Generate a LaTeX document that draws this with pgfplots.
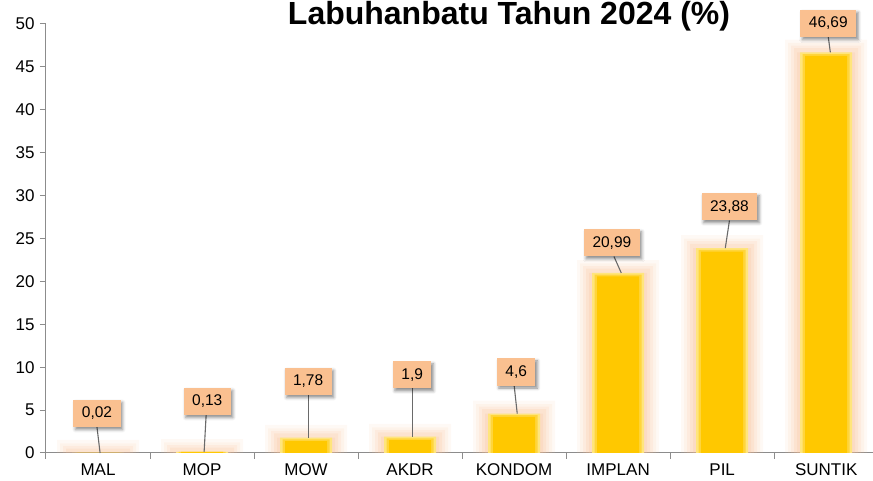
\documentclass[border=0pt]{standalone}
\usepackage{pgfplots}
\pgfplotsset{compat=1.18}
\usepackage{pgfplotstable}
\usepackage{fontspec}
\setmainfont{Liberation Sans}
\usetikzlibrary{shadows.blur}
\definecolor{gold}{HTML}{FFC800}
\definecolor{goldmid}{HTML}{FFD53C}
\definecolor{goldedge}{HTML}{FFE57C}
\definecolor{glow}{HTML}{F7BD92}
\definecolor{lblfill}{HTML}{FAC090}
\definecolor{axgray}{HTML}{8C8C8C}
\definecolor{leader}{HTML}{6A6A6A}

\tikzset{
  lbl/.style={fill=lblfill, draw=none, font=\fontsize{15.5}{18}\selectfont,
    inner xsep=8.5pt, inner ysep=6.3pt, text height=11.5pt, text depth=3pt,
    blur shadow={shadow xshift=2pt, shadow yshift=-2.5pt, shadow blur radius=3pt, shadow opacity=45}},
  ldr/.style={leader, line width=1.1pt},
}

% x = category index, v = value; m, c = inner (darker) parts of each bar;
% g1..g4 = soft glow layers around each bar
\pgfplotstableread{
x v m c g1 g2 g3 g4
0 0.02 0.02 0.02 1.52 1.12 0.82 0.52
1 0.13 0.13 0.13 1.63 1.23 0.93 0.63
2 1.78 1.58 1.38 3.28 2.88 2.58 2.28
3 1.90 1.70 1.50 3.40 3.00 2.70 2.40
4 4.60 4.40 4.20 6.10 5.70 5.40 5.10
5 20.99 20.79 20.59 22.49 22.09 21.79 21.49
6 23.88 23.68 23.48 25.38 24.98 24.68 24.38
7 46.69 46.49 46.29 48.19 47.79 47.49 47.19
}\datatable

\begin{document}
\begin{tikzpicture}
\path[use as bounding box] (0,0) rectangle (873pt,481pt);
\begin{axis}[
  at={(46pt,28pt)}, anchor=south west,
  scale only axis, width=827pt, height=429pt,
  xmin=-0.5, xmax=7.45, ymin=0, ymax=50,
  clip=false,
  axis x line=bottom, axis y line=left,
  axis line style={axgray, line width=1pt, -},
  ytick={0,5,...,50},
  xtick={-0.5,0.5,...,6.5},
  xticklabels={},
  extra x ticks={0,...,7},
  extra x tick labels={MAL,MOP,MOW,AKDR,KONDOM,IMPLAN,PIL,SUNTIK},
  extra x tick style={major tick length=0pt},
  tick align=outside,
  major tick length=6pt,
  tick style={axgray, line width=1pt},
  /pgf/number format/assume math mode=true,
  yticklabel style={font=\fontsize{17}{20}\selectfont, text=black, xshift=-2pt},
  xticklabel style={font=\fontsize{17}{20}\selectfont, text=black, yshift=-7pt},
  every axis plot/.append style={ybar, bar shift=0pt, draw=none},
]
\addplot[bar width=82pt, fill=glow, fill opacity=0.09] table[x=x, y=g1] {\datatable};
\addplot[bar width=76pt, fill=glow, fill opacity=0.11] table[x=x, y=g2] {\datatable};
\addplot[bar width=70pt, fill=glow, fill opacity=0.14] table[x=x, y=g3] {\datatable};
\addplot[bar width=64pt, fill=glow, fill opacity=0.18] table[x=x, y=g4] {\datatable};
\addplot[bar width=58pt, fill=glow, fill opacity=0.20] table[x=x, y=v] {\datatable};
\addplot[bar width=52pt, fill=goldedge] table[x=x, y=v] {\datatable};
\addplot[bar width=47pt, fill=goldmid] table[x=x, y=m] {\datatable};
\addplot[bar width=42pt, fill=gold] table[x=x, y=c] {\datatable};

% leader lines
\draw[ldr] (axis cs:-0.01,3.03) -- (axis cs:0.02,0);
\draw[ldr] (axis cs:1.04,4.55) -- (axis cs:1.02,0.13);
\draw[ldr] (axis cs:2.02,6.9) -- (axis cs:2.02,1.78);
\draw[ldr] (axis cs:3.02,7.6) -- (axis cs:3.02,1.9);
\draw[ldr] (axis cs:4.00,7.9) -- (axis cs:4.03,4.6);
\draw[ldr] (axis cs:4.96,22.9) -- (axis cs:5.03,20.99);
\draw[ldr] (axis cs:6.07,27.1) -- (axis cs:6.03,23.88);
\draw[ldr] (axis cs:7.02,48.5) -- (axis cs:7.04,46.69);

% data labels
\node[lbl] at (axis cs:-0.01,4.6) {0,02};
\node[lbl] at (axis cs:1.05,6.0) {0,13};
\node[lbl] at (axis cs:2.02,8.33) {1,78};
\node[lbl] at (axis cs:3.02,9.1) {1,9};
\node[lbl] at (axis cs:4.02,9.44) {4,6};
\node[lbl] at (axis cs:4.94,24.5) {20,99};
\node[lbl] at (axis cs:6.07,28.7) {23,88};
\node[lbl] at (axis cs:7.02,50.06) {46,69};
\end{axis}
\node[anchor=base, font=\fontsize{32}{36}\selectfont\bfseries] at (509pt,456pt) {Labuhanbatu Tahun 2024 (\%)};
\end{tikzpicture}
\end{document}
